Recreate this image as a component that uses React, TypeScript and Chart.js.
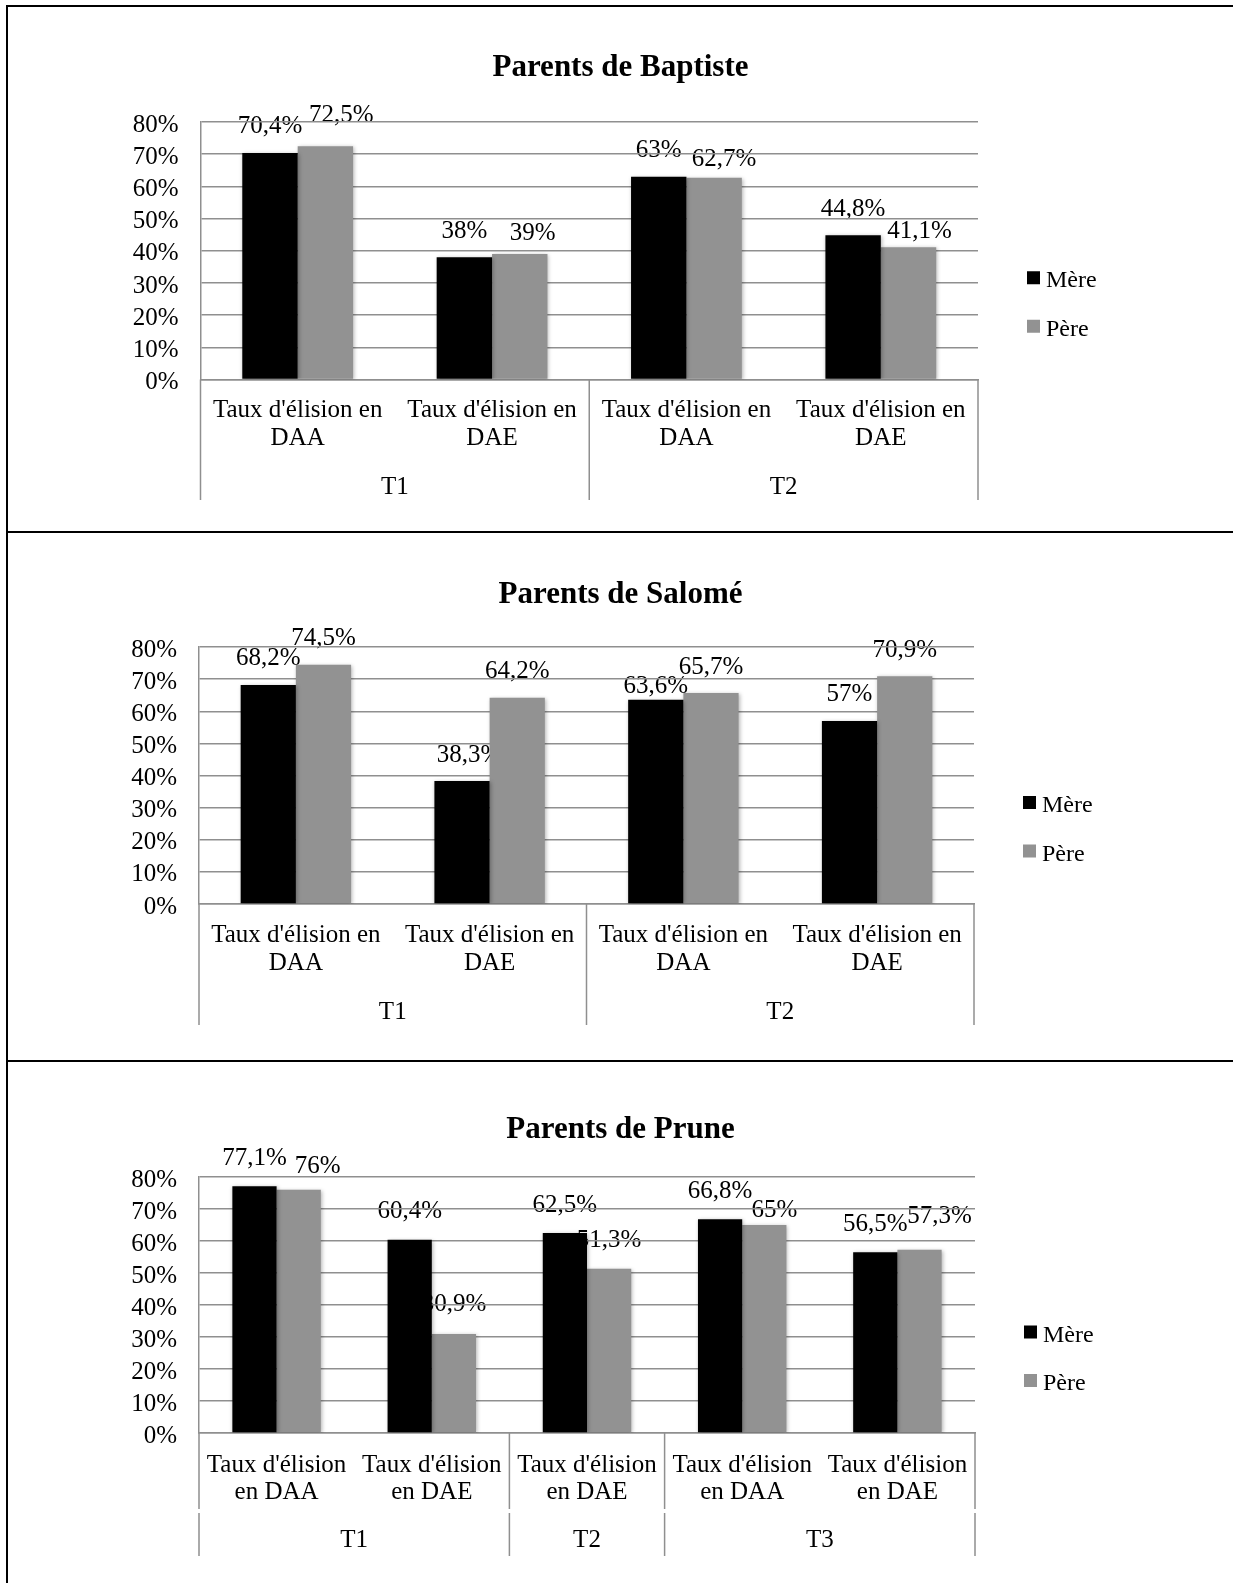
import React, { useEffect, useRef } from 'react';
import { Chart, registerables } from 'chart.js';

Chart.register(...registerables);

// ---------- shared ----------
const FONT = '"Liberation Serif", "Times New Roman", serif';
const GRID = '#8f8f8f';
const CANVAS_W = 1225;
const TXT = 25;

const seriesNames = ['Mère', 'Père'];
const seriesColors = ['#000000', '#929292'];
const yTickValues = [0, 10, 20, 30, 40, 50, 60, 70, 80];

// ---------- chart 1 : Baptiste ----------
const baptisteTitle = 'Parents de Baptiste';
const baptisteCategories = [
  ["Taux d'élision en", 'DAA'],
  ["Taux d'élision en", 'DAE'],
  ["Taux d'élision en", 'DAA'],
  ["Taux d'élision en", 'DAE'],
];
const baptisteGroups = ['T1', 'T2'];
const baptisteGroupSizes = [2, 2];
const baptisteMere = [70.4, 38, 63, 44.8];
const baptistePere = [72.5, 39, 62.7, 41.1];

// ---------- chart 2 : Salomé ----------
const salomeTitle = 'Parents de Salomé';
const salomeCategories = [
  ["Taux d'élision en", 'DAA'],
  ["Taux d'élision en", 'DAE'],
  ["Taux d'élision en", 'DAA'],
  ["Taux d'élision en", 'DAE'],
];
const salomeGroups = ['T1', 'T2'];
const salomeGroupSizes = [2, 2];
const salomeMere = [68.2, 38.3, 63.6, 57];
const salomePere = [74.5, 64.2, 65.7, 70.9];

// ---------- chart 3 : Prune ----------
const pruneTitle = 'Parents de Prune';
const pruneCategories = [
  ["Taux d'élision", 'en DAA'],
  ["Taux d'élision", 'en DAE'],
  ["Taux d'élision", 'en DAE'],
  ["Taux d'élision", 'en DAA'],
  ["Taux d'élision", 'en DAE'],
];
const pruneGroups = ['T1', 'T2', 'T3'];
const pruneGroupSizes = [2, 1, 2];
const pruneMere = [77.1, 60.4, 62.5, 66.8, 56.5];
const prunePere = [76, 30.9, 51.3, 65, 57.3];

// ---------- label nudges (dx right, dy up) : layout only ----------
const baptisteNudges = [
  [[0, 0], [0, 0], [0, 0], [0, 0]],
  [[16, 5], [13, -5], [10, -8], [11, -10]],
];
const salomeNudges = [
  [[0, 0], [7, 0], [0, -13], [0, 0]],
  [[0, 0], [0, 0], [0, 0], [0, 0]],
];
const pruneNudges = [
  [[0, 0], [0, 0], [0, 0], [0, 0], [0, 0]],
  [[19, -5], [0, 2], [0, 0], [10, -13], [20, 5]],
];

type Layout = {
  top: number; height: number;
  plotLeft: number; plotRight: number; plotTop: number; plotBottom: number;
  titleCenter: number; tickPad: number; lineH: number;
  groupY: number; divLen: number; divGap: number[] | null; labelGap: number;
};

type Spec = {
  title: string;
  categories: string[][];
  groups: string[];
  groupSizes: number[];
  series: number[][];
  nudges: number[][][];
  layout: Layout;
};

const panels: Spec[] = [
  {
    title: baptisteTitle, categories: baptisteCategories, groups: baptisteGroups,
    groupSizes: baptisteGroupSizes, series: [baptisteMere, baptistePere], nudges: baptisteNudges,
    layout: { top: 8, height: 522, plotLeft: 192.5, plotRight: 970, plotTop: 114, plotBottom: 371.5,
      titleCenter: 59.5, tickPad: 16.5, lineH: 28, groupY: 108, divLen: 120.5, divGap: null, labelGap: 26 },
  },
  {
    title: salomeTitle, categories: salomeCategories, groups: salomeGroups,
    groupSizes: salomeGroupSizes, series: [salomeMere, salomePere], nudges: salomeNudges,
    layout: { top: 533, height: 526, plotLeft: 191, plotRight: 966, plotTop: 114, plotBottom: 371,
      titleCenter: 61.5, tickPad: 17, lineH: 28, groupY: 108, divLen: 121, divGap: null, labelGap: 26 },
  },
  {
    title: pruneTitle, categories: pruneCategories, groups: pruneGroups,
    groupSizes: pruneGroupSizes, series: [pruneMere, prunePere], nudges: pruneNudges,
    layout: { top: 1062, height: 521, plotLeft: 191, plotRight: 967, plotTop: 115, plotBottom: 371,
      titleCenter: 67.5, tickPad: 19, lineH: 27, groupY: 107, divLen: 123, divGap: [76, 80], labelGap: 28 },
  },
];

const fmt = (v: number) => String(v).replace('.', ',') + '%';

function BarPanel({ spec }: { spec: Spec }) {
  const ref = useRef<HTMLCanvasElement>(null);
  const L = spec.layout;

  useEffect(() => {
    const canvas = ref.current;
    if (!canvas) return;

    const labelsPlugin = {
      id: 'valueLabels',
      beforeDraw(chart: any) {
        const ctx = chart.ctx;
        ctx.save();
        ctx.font = `${TXT}px ${FONT}`;
        ctx.fillStyle = '#000';
        ctx.textAlign = 'center';
        ctx.textBaseline = 'middle';
        chart.data.datasets.forEach((ds: any, di: number) => {
          const meta = chart.getDatasetMeta(di);
          meta.data.forEach((bar: any, i: number) => {
            const [dx, dy] = spec.nudges[di][i];
            ctx.fillText(fmt(ds.data[i]), bar.x + dx, bar.y - L.labelGap - dy);
          });
        });
        ctx.restore();
      },
    };

    const shadowPlugin = {
      id: 'barShadow',
      beforeDatasetsDraw(chart: any) {
        const ctx = chart.ctx;
        ctx.save();
        ctx.shadowColor = 'rgba(0,0,0,0.3)';
        ctx.shadowBlur = 4;
        ctx.shadowOffsetX = 1;
        ctx.shadowOffsetY = 1;
      },
      afterDatasetsDraw(chart: any) {
        chart.ctx.restore();
      },
    };

    const groupAxisPlugin = {
      id: 'groupAxis',
      afterDraw(chart: any) {
        const ctx = chart.ctx;
        const xs = chart.scales.x;
        const area = chart.chartArea;
        const step = xs.getPixelForValue(1) - xs.getPixelForValue(0);
        const bounds = [xs.getPixelForValue(0) - step / 2];
        let idx = 0;
        spec.groupSizes.forEach((n) => {
          idx += n;
          bounds.push(xs.getPixelForValue(idx - 1) + step / 2);
        });
        ctx.save();
        ctx.strokeStyle = GRID;
        ctx.lineWidth = 1.5;
        const y0 = area.bottom;
        bounds.forEach((bx) => {
          ctx.beginPath();
          if (L.divGap) {
            ctx.moveTo(bx, y0);
            ctx.lineTo(bx, y0 + L.divGap[0]);
            ctx.moveTo(bx, y0 + L.divGap[1]);
            ctx.lineTo(bx, y0 + L.divLen);
          } else {
            ctx.moveTo(bx, y0);
            ctx.lineTo(bx, y0 + L.divLen);
          }
          ctx.stroke();
        });
        ctx.font = `${TXT}px ${FONT}`;
        ctx.fillStyle = '#000';
        ctx.textAlign = 'center';
        ctx.textBaseline = 'middle';
        spec.groups.forEach((g, gi) => {
          ctx.fillText(g, (bounds[gi] + bounds[gi + 1]) / 2, y0 + L.groupY);
        });
        ctx.restore();
      },
    };

    const legendPlugin = {
      id: 'sideLegend',
      afterDraw(chart: any) {
        const ctx = chart.ctx;
        const area = chart.chartArea;
        const cy = (area.top + area.bottom) / 2 + 20.5;
        ctx.save();
        ctx.font = `24px ${FONT}`;
        ctx.textAlign = 'left';
        ctx.textBaseline = 'alphabetic';
        chart.data.datasets.forEach((ds: any, i: number) => {
          const top = cy + i * 48.5;
          const left = area.right + 49;
          ctx.fillStyle = ds.backgroundColor;
          ctx.fillRect(left, top, 13, 13);
          ctx.fillStyle = '#000';
          ctx.fillText(ds.label, left + 19, top + 16);
        });
        ctx.restore();
      },
    };

    const chart = new Chart(canvas, {
      type: 'bar',
      data: {
        labels: spec.categories,
        datasets: spec.series.map((d, i) => ({
          label: seriesNames[i],
          data: d,
          backgroundColor: seriesColors[i],
          borderWidth: 0,
          categoryPercentage: 0.57,
          barPercentage: 1,
        })),
      },
      options: {
        responsive: false,
        animation: false,
        devicePixelRatio: 1,
        events: [],
        layout: { padding: { left: 0, top: 0, right: 0, bottom: 0 } },
        plugins: {
          legend: { display: false },
          tooltip: { enabled: false },
          title: {
            display: true,
            text: spec.title,
            color: '#000',
            font: { family: FONT, size: 31, weight: 'bold', lineHeight: 36 / 31 },
            padding: { top: L.titleCenter - 18, bottom: L.plotTop - (L.titleCenter + 18) },
          },
        },
        scales: {
          x: {
            grid: { display: false, drawTicks: false },
            border: { display: true, color: GRID, width: 1.5 },
            ticks: {
              color: '#000',
              font: { family: FONT, size: TXT, lineHeight: L.lineH / TXT },
              padding: L.tickPad,
              maxRotation: 0,
              minRotation: 0,
              autoSkip: false,
            },
            afterFit: (s: any) => { s.height = L.height - L.plotBottom; },
          },
          y: {
            min: 0,
            max: 80,
            afterBuildTicks: (s: any) => { s.ticks = yTickValues.map((v) => ({ value: v })); },
            ticks: {
              callback: (v: any) => v + '%',
              color: '#000',
              font: { family: FONT, size: TXT, lineHeight: 1 },
              padding: 22,
              labelOffset: 3,
              autoSkip: false,
            },
            grid: { color: GRID, lineWidth: 1.5, drawTicks: false },
            border: { display: true, color: GRID, width: 1.5 },
            afterFit: (s: any) => { s.width = L.plotLeft; },
          },
          legendSpace: {
            type: 'linear',
            position: 'right',
            display: true,
            grid: { display: false, drawTicks: false },
            border: { display: false },
            ticks: { display: false },
            afterFit: (s: any) => { s.width = CANVAS_W - L.plotRight; },
          },
        },
      } as any,
      plugins: [labelsPlugin, shadowPlugin, groupAxisPlugin, legendPlugin],
    });
    return () => chart.destroy();
  }, [spec]);

  return (
    <canvas
      ref={ref}
      width={CANVAS_W}
      height={L.height}
      style={{ position: 'absolute', left: 8, top: L.top, width: CANVAS_W, height: L.height }}
    />
  );
}

export default function App() {
  const line = (s: React.CSSProperties) => (
    <div style={{ position: 'absolute', background: '#000', ...s }} />
  );
  return (
    <div style={{ position: 'absolute', left: 0, top: 0, width: 1233, height: 1583, overflow: 'hidden', background: '#fff' }}>
      {line({ left: 6, top: 5, width: 2, height: 1578 })}
      {line({ left: 6, top: 5, width: 1227, height: 2 })}
      {line({ left: 6, top: 531, width: 1227, height: 2 })}
      {line({ left: 6, top: 1060, width: 1227, height: 2 })}
      {panels.map((p, i) => (
        <BarPanel key={i} spec={p} />
      ))}
    </div>
  );
}
